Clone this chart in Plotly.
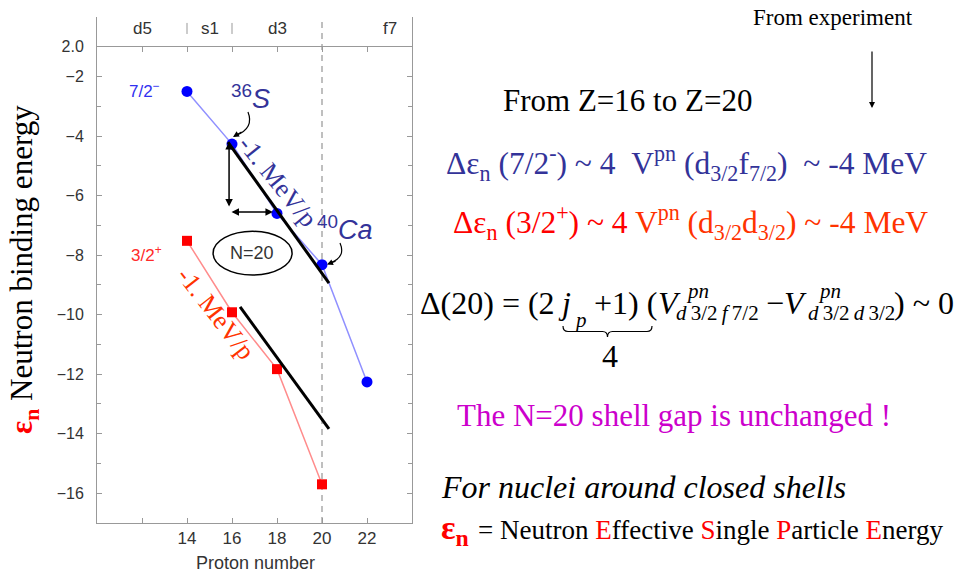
import plotly.graph_objects as go

# Neutron single-particle energies (MeV) versus proton number
proton_number_f72 = [14, 16, 18, 20, 22]
energy_f72 = [-2.5, -4.27, -6.6, -8.32, -12.26]
proton_number_d32 = [14, 16, 18, 20]
energy_d32 = [-7.52, -9.92, -11.83, -15.7]

# Straight guides showing the -1 MeV per proton slope
guide_f72_x = [15.82, 20.31]
guide_f72_y = [-4.2, -8.94]
guide_d32_x = [16.36, 20.31]
guide_d32_y = [-9.74, -13.84]

# Proton orbitals being filled, labelled in the top strip
shell_labels = ["d5", "s1", "d3", "f7"]
shell_centers = [12, 15, 18, 23]
shell_bounds = [14, 16]

x_tickvals = [12, 14, 16, 18, 20, 22]
x_ticktext = ["", "14", "16", "18", "20", "22"]
y_tickvals = [-1, -2, -4, -6, -8, -10, -12, -14, -16]
y_ticktext = ["2.0", "−2", "−4", "−6", "−8", "−10", "−12", "−14", "−16"]
y_minor = [-3, -5, -7, -9, -11, -13, -15]

W, H = 959, 575
L, R, T, B = 97, 547, 17, 52
PW, PH = W - L - R, H - T - B

SERIF = "'Liberation Serif', 'Times New Roman', 'DejaVu Serif', serif"
SANS = "'Liberation Sans', Arial, sans-serif"
AXIS_GREY = "#999999"
TEXT_GREY = "#333333"
NAVY = "#333399"
NB = "\u00a0"
THIN = "\u2009"


def fx(px):
    return (px - L) / PW


def fy(py):
    return (H - B - py) / PH


fig = go.Figure()

fig.add_trace(go.Scatter(
    x=proton_number_d32, y=energy_d32, mode="lines+markers",
    line=dict(color="#ff8c8c", width=1.5),
    marker=dict(color="#ff0000", size=10, symbol="square"),
    showlegend=False, hoverinfo="skip"))
fig.add_trace(go.Scatter(
    x=proton_number_f72, y=energy_f72, mode="lines+markers",
    line=dict(color="#9090ff", width=1.5),
    marker=dict(color="#0000ff", size=11, symbol="circle"),
    showlegend=False, hoverinfo="skip"))
for gx, gy in [(guide_f72_x, guide_f72_y), (guide_d32_x, guide_d32_y)]:
    fig.add_trace(go.Scatter(
        x=gx, y=gy, mode="lines", line=dict(color="black", width=3),
        showlegend=False, hoverinfo="skip"))
# carrier for the ruled line under the orbital strip
fig.add_trace(go.Scatter(x=[None], y=[None], xaxis="x2", showlegend=False,
                         hoverinfo="skip"))

shapes = []
# N=20 closure
shapes.append(dict(type="line", xref="x", yref="paper", x0=20, x1=20, y0=0, y1=1,
                   line=dict(color="#aaaaaa", width=1.5, dash="6px,5px"), layer="below"))
for b in shell_bounds:
    shapes.append(dict(type="line", xref="x", yref="y", x0=b, x1=b, y0=-0.2, y1=-0.57,
                       line=dict(color=AXIS_GREY, width=1)))
# N=20 ellipse
shapes.append(dict(type="circle", xref="x", yref="y", x0=15.16, x1=18.67,
                   y0=-8.67, y1=-7.2, line=dict(color="black", width=1.5)))
# curved callouts for 36S and 40Ca
shapes.append(dict(type="path", xref="x", yref="y",
                   path="M 16.71,-3.19 C 16.89,-3.53 16.76,-3.80 16.18,-3.98",
                   line=dict(color="black", width=1.2)))
shapes.append(dict(type="path", xref="x", yref="y",
                   path="M 20.80,-7.59 C 20.98,-7.90 20.84,-8.13 20.40,-8.25",
                   line=dict(color="black", width=1.2)))


def brace_path(x0, x1, ytop, depth):
    xm = (x0 + x1) / 2
    q = 5
    pts = [
        f"M {fx(x0)},{fy(ytop)}",
        f"Q {fx(x0)},{fy(ytop + depth / 2)} {fx(x0 + q)},{fy(ytop + depth / 2)}",
        f"L {fx(xm - q)},{fy(ytop + depth / 2)}",
        f"Q {fx(xm)},{fy(ytop + depth / 2)} {fx(xm)},{fy(ytop + depth)}",
        f"Q {fx(xm)},{fy(ytop + depth / 2)} {fx(xm + q)},{fy(ytop + depth / 2)}",
        f"L {fx(x1 - q)},{fy(ytop + depth / 2)}",
        f"Q {fx(x1)},{fy(ytop + depth / 2)} {fx(x1)},{fy(ytop)}",
    ]
    return " ".join(pts)


shapes.append(dict(type="path", xref="paper", yref="paper",
                   path=brace_path(563, 652, 326, 11),
                   line=dict(color="black", width=1.2)))

ann = []


def note(px, py, text, size, color="black", anchor="center", family=SERIF):
    ann.append(dict(x=fx(px), y=fy(py), xref="paper", yref="paper", text=text,
                    showarrow=False, xanchor=anchor, yanchor="middle",
                    font=dict(family=family, size=size, color=color)))


def data_note(x, y, text, size, color, family=SANS, angle=0):
    ann.append(dict(x=x, y=y, xref="x", yref="y", text=text, showarrow=False,
                    xanchor="center", yanchor="middle", textangle=angle,
                    font=dict(family=family, size=size, color=color)))


for lab, xc in zip(shell_labels, shell_centers):
    data_note(xc, -0.4, lab, 17, TEXT_GREY)

data_note(12.09, -2.45, "7/2<sup>−</sup>", 17, "#3030f0")
data_note(12.22, -7.96, "3/2<sup>+</sup>", 17, "#ff2a2a")
data_note(16.8, -2.69, "<sup>36</sup><i>S</i>", 27, NAVY)
data_note(21.02, -7.09, "<sup>40</sup><i>Ca</i>", 27, NAVY)
data_note(16.9, -7.93, "N=20", 18, TEXT_GREY)
data_note(18.04, -5.51, "-1. MeV/p", 26, NAVY, family=SERIF, angle=51)
data_note(15.29, -9.95, "-1. MeV/p", 26, "#ff3300", family=SERIF, angle=52)

# arrowheads of the curved callouts
for hx, hy, ox, oy in [(16.044, -4.032, 10, -6), (20.222, -8.317, 10, -4)]:
    ann.append(dict(x=hx, y=hy, xref="x", yref="y", ax=ox, ay=oy, text="",
                    showarrow=True, arrowhead=2, arrowsize=1, arrowwidth=1.2,
                    arrowcolor="black"))
# double-headed arrows between 36S and its neighbour
for hx, hy, tx, ty in [(15.87, -4.2, 15.87, -6.42), (17.82, -6.55, 15.91, -6.55)]:
    ann.append(dict(x=hx, y=hy, xref="x", yref="y", ax=tx, ay=ty, axref="x", ayref="y",
                    text="", showarrow=True, arrowhead=2, startarrowhead=2,
                    arrowside="end+start", arrowsize=1, startarrowsize=1,
                    arrowwidth=1.5, arrowcolor="black"))

# axis titles
ann.append(dict(x=fx(24), y=fy(270), xref="paper", yref="paper", textangle=-90,
                text="<b><span style='color:#ff0000'>ε<sub>n</sub></span></b> Neutron binding energy",
                showarrow=False, xanchor="center", yanchor="middle",
                font=dict(family=SERIF, size=31, color="black")))
note(255, 563, "Proton number", 18, TEXT_GREY, family=SANS)

# right-hand commentary
note(833, 18, "From experiment", 23)
ann.append(dict(x=fx(872), y=fy(108), xref="paper", yref="paper", ax=0, ay=-58,
                text="", showarrow=True, arrowhead=2, arrowsize=1, arrowwidth=1.2,
                arrowcolor="black"))
note(627, 100, "From Z=16 to Z=20", 31)
note(444, 163,
     f"Δε<sub>n</sub> (7/2<sup>-</sup>) ~ 4{NB}{NB}V<sup>pn</sup> (d<sub>3/2</sub>f<sub>7/2</sub>){NB}{NB}~ -4 MeV",
     31.5, NAVY, "left")
note(451, 222,
     "<span style='color:#ff0000'>Δε<sub>n</sub> (3/2<sup>+</sup>) ~ 4</span> "
     "<span style='color:#ff3300'>V<sup>pn</sup> (d<sub>3/2</sub>d<sub>3/2</sub>) ~ -4 MeV</span>",
     31.5, "#ff0000", "left")

# Delta(20) = (2j_p+1)(V_f7/2 - V_d3/2) ~ 0, assembled piece by piece
EQ_Y = 303
note(418, EQ_Y, "Δ(20) = (2", 32, anchor="left")
note(556, EQ_Y, "<i>j</i>", 32, anchor="left")
note(572, EQ_Y + 17, "<i>p</i>", 21, anchor="left")
note(592, EQ_Y, "+1) (", 32, anchor="left")
note(656, EQ_Y, "<i>V</i>", 32, anchor="left")
note(684, EQ_Y - 12, "<i>pn</i>", 21, anchor="left")
note(674, EQ_Y + 10, f"<i>d</i>{THIN}3/2{THIN}<i>f</i>{THIN}7/2", 21, anchor="left")
note(764, EQ_Y, "−<i>V</i>", 32, anchor="left")
note(816, EQ_Y - 12, "<i>pn</i>", 21, anchor="left")
note(806, EQ_Y + 10, f"<i>d</i>{THIN}3/2{THIN}<i>d</i>{THIN}3/2", 21, anchor="left")
note(892, EQ_Y, ") ~ 0", 32, anchor="left")
note(610, 356, "4", 32)

note(674, 415, "The N=20 shell gap is unchanged !", 31, "#cc00cc")
note(439, 487, "<i>For nuclei around closed shells</i>", 32, anchor="left")
note(439, 530, "<b>ε<sub>n</sub></b>", 34, "#ff0000", "left")
red = "<span style='color:#ff0000'>{}</span>"
note(476, 530,
     f"= Neutron {red.format('E')}ffective {red.format('S')}ingle "
     f"{red.format('P')}article {red.format('E')}nergy",
     27, anchor="left")

fig.update_layout(
    width=W, height=H, autosize=False,
    margin=dict(l=L, r=R, t=T, b=B, pad=0),
    plot_bgcolor="white", paper_bgcolor="white",
    showlegend=False,
    xaxis=dict(range=[10, 24], tickmode="array", tickvals=x_tickvals, ticktext=x_ticktext,
               ticks="inside", ticklen=5, tickcolor=AXIS_GREY, showline=True,
               linecolor=AXIS_GREY, linewidth=1, mirror=False, showgrid=False,
               zeroline=False, tickfont=dict(family=SANS, size=17, color=TEXT_GREY)),
    xaxis2=dict(range=[10, 24], overlaying="x", anchor="free", position=fy(46),
                side="top", tickmode="array", tickvals=x_tickvals, ticks="inside",
                ticklen=5, tickcolor=AXIS_GREY, showticklabels=False, showline=True,
                linecolor=AXIS_GREY, linewidth=1, showgrid=False, zeroline=False),
    yaxis=dict(range=[-17, 0], tickmode="array", tickvals=y_tickvals, ticktext=y_ticktext,
               ticks="inside", ticklen=5, tickcolor=AXIS_GREY, showline=True,
               linecolor=AXIS_GREY, linewidth=1, mirror="ticks", showgrid=False,
               zeroline=False, ticklabelstandoff=9,
               minor=dict(tickvals=y_minor, ticks="inside", ticklen=4, tickcolor=AXIS_GREY),
               tickfont=dict(family=SANS, size=16, color=TEXT_GREY)),
    shapes=shapes,
    annotations=ann,
)

fig.write_html("out.html")
